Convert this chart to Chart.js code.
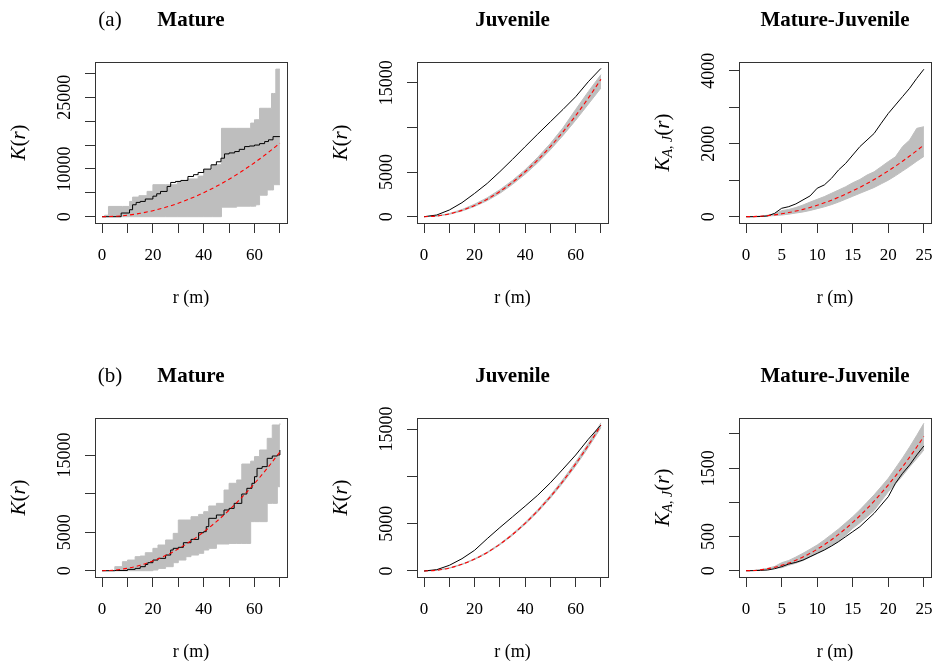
<!DOCTYPE html>
<html>
<head>
<meta charset="utf-8">
<script src="https://cdn.jsdelivr.net/npm/chart.js@4.4.1/dist/chart.umd.min.js"></script>
<style>
  body { margin: 0; background: #fff; }
  #wrap { position: relative; width: 936px; height: 664px; }
  canvas { position: absolute; }
</style>
</head>
<body>
<div id="wrap"></div>
<script>
const FONT = '"Liberation Serif", "Times New Roman", serif';

// radii (m)
const r70 = [0, 5, 10, 15, 20, 25, 30, 35, 40, 45, 50, 55, 60, 65, 70];
const r25 = [0, 1, 2, 3, 4, 5, 6, 7, 8, 9, 10, 11, 12, 13, 14, 15, 16, 17, 18, 19, 20, 21, 22, 23, 24, 25];

// theoretical K (red dashed)
const theo70 = [0, 80, 310, 710, 1260, 1960, 2830, 3850, 5030, 6360, 7850, 9500, 11310, 13270, 15390];
const theo25 = [0, 3, 13, 28, 50, 79, 113, 154, 201, 254, 314, 380, 452, 531, 616, 707, 804, 908, 1018, 1134, 1257, 1385, 1520, 1662, 1810, 1963];

// (a) Mature
const a1ObsR = [0, 7.5, 10.8, 12, 13.4, 15, 17, 20, 21.5, 23, 25.6, 27, 28.9, 31, 33.8, 36, 37.8, 40, 42.9, 45, 46.8, 48.2, 50, 52.2, 54, 56.1, 58, 60, 62, 64, 65.5, 67.3, 70];
const a1Obs = [0, 770, 1460, 2500, 2990, 3200, 3700, 4300, 4800, 5290, 6330, 7170, 7380, 7590, 8420, 8800, 9260, 9960, 10860, 11500, 12250, 13150, 13350, 13640, 14100, 14680, 14800, 15000, 15300, 15730, 16100, 16770, 16770];
const a1EnvR = [0, 1, 2.5, 8, 10.8, 12, 14.5, 17.7, 20, 25, 29.6, 33.5, 37.8, 40, 43.5, 47, 53, 58.5, 60, 60.5, 62, 65, 66.7, 67.5, 68.4, 70];
const a1Hi = [0, 300, 2150, 2150, 3200, 4100, 4400, 5300, 6700, 6700, 7400, 7900, 8500, 9800, 10900, 18500, 18500, 19600, 20300, 20300, 22700, 22700, 25800, 25800, 30900, 30900];
const a1Lo = [0, 0, 0, 0, 0, 0, 0, 0, 0, 0, 0, 0, 0, 0, 0, 2000, 2200, 2200, 2200, 2500, 4500, 5600, 5600, 6700, 6700, 6700];

// (a) Juvenile
const a2Obs = [0, 190, 750, 1570, 2610, 3730, 5040, 6420, 7840, 9250, 10630, 12010, 13430, 15110, 16600];
const a2Hi = [0, 90, 350, 800, 1400, 2120, 3020, 4060, 5260, 6650, 8200, 9950, 12000, 14000, 15900];
const a2Lo = [0, 60, 270, 640, 1150, 1800, 2620, 3620, 4760, 6050, 7500, 9100, 10800, 12600, 14400];

// (a) Mature-Juvenile
const a3Obs = [0, 0, 5, 20, 90, 230, 275, 350, 460, 570, 780, 870, 1050, 1280, 1460, 1690, 1920, 2100, 2280, 2560, 2830, 3060, 3290, 3520, 3790, 4040];
const a3Hi = [0, 3, 15, 40, 80, 165, 200, 250, 320, 400, 475, 550, 640, 730, 820, 930, 1020, 1140, 1230, 1370, 1510, 1640, 1920, 2100, 2420, 2465];
const a3Lo = [0, 1, 8, 18, 30, 45, 70, 100, 130, 170, 220, 270, 330, 400, 480, 560, 640, 720, 800, 900, 1000, 1120, 1250, 1380, 1520, 1650];

// (b) Mature
const b1ObsR = [0, 5, 10, 13, 15, 17, 18, 20, 22, 25, 27, 28, 30, 32, 35, 38, 40, 41, 42, 45, 48, 50, 52, 55, 57, 59, 60, 61, 63, 65, 67, 69, 70];
const b1Obs = [0, 20, 170, 300, 520, 800, 1040, 1380, 1600, 2030, 2680, 2900, 3030, 3630, 4060, 4930, 5060, 5710, 6790, 7220, 7870, 8080, 8730, 9940, 10680, 11330, 12190, 13270, 13490, 14570, 14870, 15000, 15650];
const b1EnvR = [0, 5, 8, 10, 13, 15, 17, 20, 22, 25, 28, 30, 33, 35, 38, 40, 42, 45, 48, 50, 53, 55, 57, 58.5, 60, 62, 65, 67, 69, 70];
const b1Hi = [0, 520, 1170, 1380, 1820, 1900, 2330, 2900, 3330, 3980, 4840, 6570, 6570, 7000, 7300, 7650, 8390, 8730, 10460, 11330, 11760, 13830, 13830, 14200, 14790, 15650, 17160, 18890, 18890, 19100];
const b1Lo = [0, 0, 0, 0, 0, 0, 0, 90, 300, 520, 1040, 1380, 1820, 2030, 2250, 2680, 2900, 3460, 3460, 3540, 3540, 3540, 3540, 6360, 6360, 6360, 8730, 8730, 10890, 10890];

// (b) Juvenile
const b2Obs = [0, 140, 600, 1300, 2190, 3420, 4590, 5720, 6850, 8010, 9320, 10770, 12250, 13910, 15420];
const b2Hi = [0, 85, 330, 730, 1290, 2000, 2880, 3930, 5130, 6480, 8000, 9680, 11520, 13500, 15650];
const b2Lo = [0, 75, 290, 680, 1220, 1900, 2760, 3770, 4930, 6240, 7700, 9320, 11100, 13050, 15150];

// (b) Mature-Juvenile
const b3Obs = [0, 1, 5, 10, 29, 59, 98, 122, 156, 205, 254, 303, 361, 425, 498, 571, 644, 742, 839, 961, 1083, 1279, 1425, 1547, 1693, 1825];
const b3Hi = [0, 4, 16, 35, 62, 117, 150, 200, 255, 315, 376, 450, 530, 610, 700, 791, 890, 1000, 1110, 1230, 1352, 1500, 1650, 1810, 1980, 2157];
const b3Lo = [0, 2, 10, 22, 40, 44, 80, 110, 150, 200, 254, 305, 365, 430, 520, 620, 700, 790, 880, 1020, 1157, 1270, 1390, 1520, 1640, 1767];

// ticks
const xTicks70 = [0, 10, 20, 30, 40, 50, 60, 70];
const xLabels70 = [0, 20, 40, 60];
const xTicks25 = [0, 5, 10, 15, 20, 25];
const xLabels25 = [0, 5, 10, 15, 20, 25];
const yTicksA1 = [0, 5000, 10000, 15000, 20000, 25000, 30000];
const yLabelsA1 = [0, 10000, 25000];
const yTicks15k = [0, 5000, 10000, 15000];
const yLabels15k = [0, 5000, 15000];
const yTicksA3 = [0, 1000, 2000, 3000, 4000];
const yLabelsA3 = [0, 2000, 4000];
const yTicksB3 = [0, 500, 1000, 1500, 2000];
const yLabelsB3 = [0, 500, 1500];

// grid of panels (pixel layout)
const cols = [
  { x: 0, w: 310, L: 95, R: 287 },
  { x: 310, w: 310, L: 417, R: 608 },
  { x: 620, w: 316, L: 739, R: 931 }
];
const rows = [
  { y: 0, h: 332, T: 62, B: 223 },
  { y: 332, h: 332, T: 418, B: 577 }
];

const panels = [
  { col: 0, row: 0, tag: '(a)', title: 'Mature', sub: false, stepped: true, yMin: -1320, yMax: 32390, yTicks: yTicksA1, yLabels: yLabelsA1,
    theoR: r70, theo: theo70, obsR: a1ObsR, obs: a1Obs, envR: a1EnvR, hi: a1Hi, lo: a1Lo },
  { col: 1, row: 0, title: 'Juvenile', sub: false, stepped: false, yMin: -705, yMax: 17318, yTicks: yTicks15k, yLabels: yLabels15k,
    theoR: r70, theo: theo70, obsR: r70, obs: a2Obs, envR: r70, hi: a2Hi, lo: a2Lo },
  { col: 2, row: 0, title: 'Mature-Juvenile', sub: true, stepped: false, yMin: -173, yMax: 4238, yTicks: yTicksA3, yLabels: yLabelsA3,
    theoR: r25, theo: theo25, obsR: r25, obs: a3Obs, envR: r25, hi: a3Hi, lo: a3Lo },
  { col: 0, row: 1, tag: '(b)', title: 'Mature', sub: false, stepped: true, yMin: -817, yMax: 19797, yTicks: yTicks15k, yLabels: yLabels15k,
    theoR: r70, theo: theo70, obsR: b1ObsR, obs: b1Obs, envR: b1EnvR, hi: b1Hi, lo: b1Lo },
  { col: 1, row: 1, title: 'Juvenile', sub: false, stepped: false, yMin: -634, yMax: 16162, yTicks: yTicks15k, yLabels: yLabels15k,
    theoR: r70, theo: theo70, obsR: r70, obs: b2Obs, envR: r70, hi: b2Hi, lo: b2Lo },
  { col: 2, row: 1, title: 'Mature-Juvenile', sub: true, stepped: false, yMin: -92, yMax: 2234, yTicks: yTicksB3, yLabels: yLabelsB3,
    theoR: r25, theo: theo25, obsR: r25, obs: b3Obs, envR: r25, hi: b3Hi, lo: b3Lo }
];

function pts(xs, ys) {
  return xs.map((x, i) => ({ x: x, y: ys[i] }));
}

function drawParts(ctx, parts) {
  let total = 0;
  parts.forEach(p => { ctx.font = p[1] + ' ' + FONT; total += ctx.measureText(p[0]).width; });
  let x = -total / 2;
  ctx.textAlign = 'left';
  parts.forEach(p => {
    ctx.font = p[1] + ' ' + FONT;
    ctx.fillText(p[0], x, p[2] || 0);
    x += ctx.measureText(p[0]).width;
  });
}

const panelText = {
  id: 'panelText',
  afterDraw(chart, args, o) {
    const { ctx, chartArea: a } = chart;
    const ys = chart.scales.y;
    ctx.save();
    ctx.strokeStyle = '#333';
    ctx.lineWidth = 1;
    ctx.strokeRect(Math.round(a.left) + 0.5, Math.round(a.top) + 0.5, Math.round(a.right - a.left), Math.round(a.bottom - a.top));

    ctx.fillStyle = '#000';
    ctx.textBaseline = 'middle';
    ctx.textAlign = 'center';
    ctx.font = 'bold 21px ' + FONT;
    ctx.fillText(o.title, (a.left + a.right) / 2, a.top - 41);
    if (o.tag) {
      ctx.font = '21px ' + FONT;
      ctx.fillText(o.tag, a.left + 15, a.top - 42);
    }

    // x axis title
    ctx.font = '18px ' + FONT;
    ctx.fillText('r (m)', (a.left + a.right) / 2, a.bottom + 75);

    // y tick labels, rotated like R
    ctx.font = '18px ' + FONT;
    o.yLabels.forEach(v => {
      ctx.save();
      ctx.translate(a.left - 30, ys.getPixelForValue(v));
      ctx.rotate(-Math.PI / 2);
      ctx.textAlign = 'center';
      ctx.fillText(String(v), 0, 0);
      ctx.restore();
    });

    // y axis title
    ctx.save();
    ctx.translate(a.left - 76, (a.top + a.bottom) / 2);
    ctx.rotate(-Math.PI / 2);
    const parts = o.sub
      ? [['K', 'italic 21px'], ['A, J', 'italic 14px', 5], ['(', '21px'], ['r', 'italic 21px'], [')', '21px']]
      : [['K', 'italic 21px'], ['(', '21px'], ['r', 'italic 21px'], [')', '21px']];
    drawParts(ctx, parts);
    ctx.restore();
    ctx.restore();
  }
};

const wrap = document.getElementById('wrap');

panels.forEach(p => {
  const c = cols[p.col];
  const rw = rows[p.row];
  const cv = document.createElement('canvas');
  cv.width = c.w;
  cv.height = rw.h;
  cv.style.left = c.x + 'px';
  cv.style.top = rw.y + 'px';
  wrap.appendChild(cv);

  const wide = p.theoR === r70;
  const xTicks = wide ? xTicks70 : xTicks25;
  const xLabels = wide ? xLabels70 : xLabels25;

  new Chart(cv, {
    type: 'line',
    data: {
      datasets: [
        { data: pts(p.theoR, p.theo), borderColor: '#ff0000', borderWidth: 1.1, borderDash: [4, 3], cubicInterpolationMode: 'monotone', fill: false },
        { data: pts(p.obsR, p.obs), borderColor: '#000', borderWidth: 1, stepped: p.stepped, fill: false },
        { data: pts(p.envR, p.hi), borderColor: '#bebebe', borderWidth: 1, backgroundColor: '#bebebe', stepped: p.stepped, fill: '+1' },
        { data: pts(p.envR, p.lo), borderColor: '#bebebe', borderWidth: 1, stepped: p.stepped, fill: false }
      ]
    },
    options: {
      responsive: false,
      animation: false,
      events: [],
      elements: { point: { radius: 0 } },
      layout: { padding: { left: 0, top: rw.T - rw.y, right: c.x + c.w - c.R, bottom: rw.y + rw.h - rw.B - 40 } },
      plugins: {
        legend: { display: false },
        tooltip: { enabled: false },
        panelText: { title: p.title, tag: p.tag, sub: p.sub, yLabels: p.yLabels }
      },
      scales: {
        x: {
          type: 'linear',
          min: wide ? -2.8 : -1,
          max: wide ? 72.8 : 26,
          afterBuildTicks: s => { s.ticks = xTicks.map(v => ({ value: v })); },
          afterFit: s => { s.height = 40; },
          border: { display: false },
          grid: { drawOnChartArea: false, tickLength: 10, color: '#333', lineWidth: 1 },
          ticks: {
            autoSkip: false, maxRotation: 0, minRotation: 0, padding: 3, color: '#000',
            font: { family: FONT, size: 17, lineHeight: '40px' },
            callback: v => xLabels.includes(v) ? String(v) : ''
          }
        },
        y: {
          type: 'linear',
          min: p.yMin,
          max: p.yMax,
          afterBuildTicks: s => { s.ticks = p.yTicks.map(v => ({ value: v })); },
          afterFit: s => { s.width = c.L - c.x; },
          border: { display: false },
          grid: { drawOnChartArea: false, tickLength: 10, color: '#333', lineWidth: 1 },
          ticks: { display: false }
        }
      }
    },
    plugins: [panelText]
  });
});
</script>
</body>
</html>
